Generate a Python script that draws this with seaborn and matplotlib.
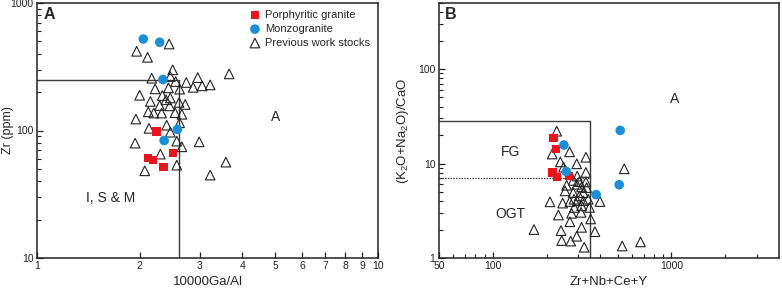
import numpy as np
import pandas as pd
import seaborn as sns
import matplotlib.pyplot as plt
from matplotlib.ticker import LogLocator, FixedLocator, FixedFormatter, NullFormatter

sns.set_style("ticks")
plt.rcParams['font.family'] = ['Liberation Sans', 'DejaVu Sans']
plt.rcParams['mathtext.fontset'] = 'custom'
plt.rcParams['mathtext.rm'] = 'Liberation Sans'
plt.rcParams['mathtext.it'] = 'Liberation Sans'

# ---- panel A: 10000Ga/Al vs Zr ----
a_porph_x = [2.24, 2.12, 2.19, 2.50, 2.35]
a_porph_y = [98, 60.7, 58.9, 66.8, 51.6]
a_monzo_x = [2.05, 2.29, 2.34, 2.58, 2.36]
a_monzo_y = [522, 492, 251, 102, 83.5]
a_prev_x = [2.44, 1.96, 2.11, 2.50, 3.66, 2.17, 2.46, 2.55, 2.74, 2.96, 2.87,
            3.05, 3.22, 2.22, 2.43, 2.62, 2.00, 2.33, 2.39, 2.46, 2.61, 2.72,
            2.15, 2.29, 2.45, 2.12, 2.20, 2.32, 2.54, 2.66, 1.95, 2.62, 2.13,
            2.40, 2.46, 1.94, 2.57, 2.66, 2.99, 2.30, 2.57, 2.07, 3.58, 3.22]
a_prev_y = [477, 418, 375, 299, 278, 257, 265, 242, 238, 260, 218,
            224, 228, 212, 216, 211, 189, 188, 174, 180, 166, 160,
            169, 157, 156, 140, 137, 137, 138, 134, 123, 115, 104,
            110, 97, 79.6, 82.5, 74.5, 81.5, 65.3, 53.5, 48.3, 56.5, 44.7]

# ---- panel B: Zr+Nb+Ce+Y vs (K2O+Na2O)/CaO ----
b_porph_x = [219, 226, 216, 228, 268]
b_porph_y = [18.6, 14.3, 8.05, 7.25, 7.36]
b_monzo_x = [250, 258, 379, 517, 510]
b_monzo_y = [15.7, 8.24, 4.69, 22.4, 5.97]
b_prev_x = [228, 215, 269, 332, 239, 295, 249, 332, 544, 297, 282, 305,
            332, 259, 295, 314, 335, 254, 282, 321, 209, 246, 270, 297,
            321, 342, 305, 285, 398, 286, 314, 348, 233, 276, 312, 353,
            270, 170, 241, 314, 373, 243, 273, 295, 325, 530, 671]
b_prev_y = [22.0, 12.6, 13.3, 11.65, 10.4, 9.92, 9.15, 8.05, 8.79, 7.36, 6.63, 6.42,
            6.37, 5.88, 6.02, 5.65, 5.56, 5.13, 4.92, 4.92, 3.93, 3.81, 3.96, 4.03,
            4.03, 4.19, 4.54, 4.19, 3.96, 3.43, 3.57, 3.43, 2.85, 2.97, 3.04, 2.59,
            2.42, 2.00, 1.95, 2.11, 1.90, 1.53, 1.51, 1.70, 1.30, 1.34, 1.48]

red = '#e8141c'
blue = '#1a8fd8'
line_c = '#3a3a3a'

fig = plt.figure(figsize=(7.82, 2.88), dpi=100)
axA = fig.add_axes([37/782, 1-258/288, 341/782, 255/288])
axB = fig.add_axes([439/782, 1-258/288, 340/782, 255/288])


def draw_points(ax, px, py, mx, my, tx, ty):
    sns.scatterplot(x=tx, y=ty, ax=ax, marker='^', s=48, facecolors='none',
                    edgecolor='#222222', linewidth=0.8, label='Previous work stocks', zorder=3)
    sns.scatterplot(x=px, y=py, ax=ax, marker='s', s=36, color=red,
                    edgecolor='none', label='Porphyritic granite', zorder=4)
    sns.scatterplot(x=mx, y=my, ax=ax, marker='o', s=48, color=blue,
                    edgecolor='none', label='Monzogranite', zorder=4)


def style_axis(ax):
    for sp in ax.spines.values():
        sp.set_linewidth(1.1)
        sp.set_color('#222222')
    ax.tick_params(which='both', direction='in', top=False, right=False,
                   labelsize=7.5, pad=2.5, colors='#222222')
    ax.tick_params(which='major', length=4, width=0.9)
    ax.tick_params(which='minor', length=3, width=0.8)


# panel A
draw_points(axA, a_porph_x, a_porph_y, a_monzo_x, a_monzo_y, a_prev_x, a_prev_y)
axA.set_xscale('log')
axA.set_yscale('log')
axA.set_xlim(1, 10)
axA.set_ylim(10, 1000)
axA.plot([1, 2.6], [250, 250], color=line_c, lw=1.0, zorder=2)
axA.plot([2.6, 2.6], [10, 250], color=line_c, lw=1.0, zorder=2)
xt = [1, 2, 3, 4, 5, 6, 7, 8, 9, 10]
axA.xaxis.set_major_locator(FixedLocator(xt))
axA.xaxis.set_major_formatter(FixedFormatter([str(v) for v in xt]))
axA.xaxis.set_minor_locator(FixedLocator([]))
axA.yaxis.set_major_locator(FixedLocator([10, 100, 1000]))
axA.yaxis.set_major_formatter(FixedFormatter(['10', '100', '1000']))
axA.yaxis.set_minor_locator(LogLocator(base=10, subs=np.arange(2, 10)))
axA.yaxis.set_minor_formatter(NullFormatter())
style_axis(axA)
axA.set_xlabel('10000Ga/Al', fontsize=9.5, labelpad=3)
axA.set_ylabel('Zr (ppm)', fontsize=9)
axA.yaxis.set_label_coords(-0.068, 0.5)
axA.text(5.0, 128, 'A', fontsize=10, ha='center', va='center')
axA.text(1.64, 29.4, 'I, S & M', fontsize=10, ha='center', va='center')
axA.text(0.018, 0.985, 'A', transform=axA.transAxes, fontsize=11.5,
         fontweight='bold', ha='left', va='top')
h, l = axA.get_legend_handles_labels()
order = [l.index('Porphyritic granite'), l.index('Monzogranite'), l.index('Previous work stocks')]
axA.legend([h[i] for i in order], [l[i] for i in order], loc='upper left',
           bbox_to_anchor=(0.6, 0.998), frameon=False, fontsize=8,
           handletextpad=0.3, labelspacing=0.35, borderaxespad=0.2, handlelength=1.2)

# panel B
draw_points(axB, b_porph_x, b_porph_y, b_monzo_x, b_monzo_y, b_prev_x, b_prev_y)
axB.set_xscale('log')
axB.set_yscale('log')
axB.set_xlim(50, 4000)
axB.set_ylim(1, 500)
axB.plot([50, 350], [28, 28], color=line_c, lw=1.0, zorder=2)
axB.plot([350, 350], [1, 28], color=line_c, lw=1.0, zorder=2)
axB.plot([50, 350], [7, 7], color=line_c, lw=0.9, ls=(0, (1.2, 1.0)), zorder=2)
axB.xaxis.set_major_locator(FixedLocator([50, 100, 1000]))
axB.xaxis.set_major_formatter(FixedFormatter(['50', '100', '1000']))
axB.xaxis.set_minor_locator(FixedLocator([60, 70, 80, 90, 200, 300, 400, 500, 600,
                                          700, 800, 900, 2000, 3000]))
axB.xaxis.set_minor_formatter(NullFormatter())
axB.yaxis.set_major_locator(FixedLocator([1, 10, 100]))
axB.yaxis.set_major_formatter(FixedFormatter(['1', '10', '100']))
axB.yaxis.set_minor_locator(LogLocator(base=10, subs=np.arange(2, 10)))
axB.yaxis.set_minor_formatter(NullFormatter())
style_axis(axB)
axB.set_xlabel('Zr+Nb+Ce+Y', fontsize=9.5, labelpad=3)
axB.set_ylabel('(K$_2$O+Na$_2$O)/CaO', fontsize=9.5, labelpad=5)
axB.text(1036, 48.5, 'A', fontsize=10, ha='center', va='center')
axB.text(126, 13.1, 'FG', fontsize=10, ha='center', va='center')
axB.text(126, 2.95, 'OGT', fontsize=10, ha='center', va='center')
axB.text(0.018, 0.985, 'B', transform=axB.transAxes, fontsize=11.5,
         fontweight='bold', ha='left', va='top')
if axB.get_legend() is not None:
    axB.get_legend().remove()

fig.savefig('out.png', dpi=100)
